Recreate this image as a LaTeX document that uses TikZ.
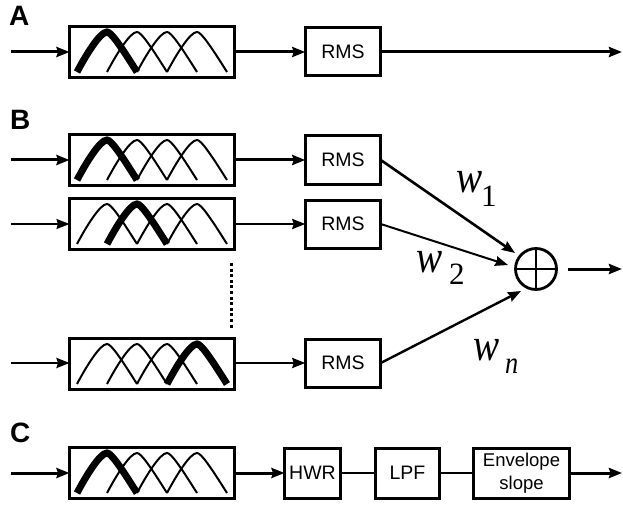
\documentclass[tikz,border=0pt]{standalone}
\usepackage{fontspec}
\setmainfont{Liberation Sans}
\newfontfamily\wfont[ItalicFeatures={FakeStretch=0.85}]{Liberation Serif}
\usetikzlibrary{arrows.meta}
\newcommand{\fs}[1]{\fontsize{#1}{#1}\selectfont}
\tikzset{
  x=1pt,y=-1pt,
  box/.style={draw,line width=3pt,inner sep=0pt,outer sep=0pt,fill=white,align=center,font=\fs{19.5}},
  filt/.style={box,minimum width=165pt,minimum height=51pt},
  rmsbox/.style={box,minimum width=75.5pt,minimum height=48pt},
  arr/.style={line width=3pt,-{Stealth[length=13pt,width=10pt,inset=1.5pt]}},
  arrthin/.style={line width=2pt,-{Stealth[length=13pt,width=10pt,inset=1.5pt]}},
  link/.style={line width=2.4pt},
  wlab/.style={inner sep=0pt,anchor=base west,font=\wfont\itshape\fs{46}},
  sublab/.style={inner sep=0pt,anchor=base west,font=\wfont\fs{31}},
  sublabit/.style={inner sep=0pt,anchor=base west,font=\wfont\itshape\fs{31}},
  panel/.style={inner sep=0pt,anchor=base west,font=\bfseries\fs{28}},
  bumpthin/.style={line width=2pt},
  bumpthick/.style={line width=7pt},
}
% #1 filter node centre y, #2 index of the thick bump
\newcommand{\bumpcurve}[3]{%
  \draw[#3] ({77+30*#2},#1+20) .. controls ({86+30*#2},#1+3) and ({100+30*#2},#1-20) .. ({107+30*#2},#1-20)
         .. controls ({111+30*#2},#1-20) and ({120+30*#2},#1-7) .. ({137+30*#2},#1+20);}
\newcommand{\bumps}[2]{%
  \foreach \i in {0,1,2,3}{\ifnum\i=#2\else\bumpcurve{#1}{\i}{bumpthin}\fi}%
  \bumpcurve{#1}{#2}{bumpthick}}
\begin{document}
\begin{tikzpicture}
\useasboundingbox (0,0) rectangle (623,505);
% panel labels
\node[panel] (la) at (9,26) {A};
\node[panel] (lb) at (10,130) {B};
\node[panel] (lc) at (10,442) {C};
% filter banks
\node[filt] (fa) at (152,52) {};
\node[filt] (f1) at (152,160) {};
\node[filt] (f2) at (152,224) {};
\node[filt] (fn) at (152,364) {};
\node[filt] (fc) at (152,473) {};
\bumps{52}{0}
\bumps{160}{0}
\bumps{224}{1}
\bumps{364}{3}
\bumps{473}{0}
% RMS boxes
\node[rmsbox] (ra) at (343,52) {RMS};
\node[rmsbox] (r1) at (343,160) {RMS};
\node[rmsbox] (r2) at (343,224) {RMS};
\node[rmsbox] (rn) at (343,363) {RMS};
% C chain
\node[box,minimum width=56pt,minimum height=50pt] (hwr) at (312.5,473) {HWR};
\node[box,minimum width=64pt,minimum height=50pt] (lpf) at (407.5,473) {LPF};
\node[box,minimum width=96pt,minimum height=50pt,font=\fs{18.5}] (env) at (521.5,473) {Envelope\\[4pt]slope};
% summing node
\node[draw,circle,line width=2.8pt,minimum size=41pt,inner sep=0pt,outer sep=0pt] (sum) at (536,269) {};
\draw[line width=2.4pt] (sum.north) -- (sum.south);
\draw[line width=2.4pt] (sum.west) -- (sum.east);
% free ends
\coordinate (ia) at (11,52);
\coordinate (i1) at (11,160);
\coordinate (i2) at (11,224);
\coordinate (in) at (11,363);
\coordinate (ic) at (11,473);
\coordinate (oa) at (622,52);
\coordinate (os) at (622,269);
\coordinate (oc) at (622,473);
\coordinate (d1) at (231,263);
\coordinate (d2) at (231,329);
% inputs
\draw[arr] (ia) -- (fa.west);
\draw[arr] (i1) -- (f1.west);
\draw[arrthin] (i2) -- (f2.west);
\draw[arr,line width=2.4pt] (in) -- (in-|fn.west);
\draw[arr] (ic) -- (fc.west);
% filter to RMS
\draw[arr] (fa.east) -- (ra.west);
\draw[arr] (f1.east) -- (r1.west);
\draw[arrthin,line width=2.4pt] (f2.east) -- (r2.west);
\draw[arrthin,line width=2.4pt] (fn.east|-rn) -- (rn.west);
\draw[arr] (fc.east) -- (hwr.west);
% outputs
\draw[arr] (ra.east) -- (oa);
\draw[arr,shorten <=11pt] (sum.east) -- (os);
\draw[arr] (env.east) -- (oc);
% weighted links
\draw[arr,line width=2.6pt] (r1.east) -- (515,253);
\draw[arrthin] (r2.east) -- (508,265);
\draw[arrthin,line width=2.4pt] (rn.east) -- (521,291);
% C chain links
\draw[link] (hwr.east) -- (lpf.west);
\draw[link] (lpf.east) -- (env.west);
% dots
\draw[line width=3pt,dash pattern=on 3pt off 2.6pt] (d1) -- (d2);
% weights
\node[wlab] (w1) at (456,193) {w};
\node[sublab] (s1) at (481,206) {1};
\node[wlab] (w2) at (416,272) {w};
\node[sublab] (s2) at (449,284) {2};
\node[wlab] (w3) at (473,360) {w};
\node[sublabit] (s3) at (505,373) {n};
\end{tikzpicture}
\end{document}
